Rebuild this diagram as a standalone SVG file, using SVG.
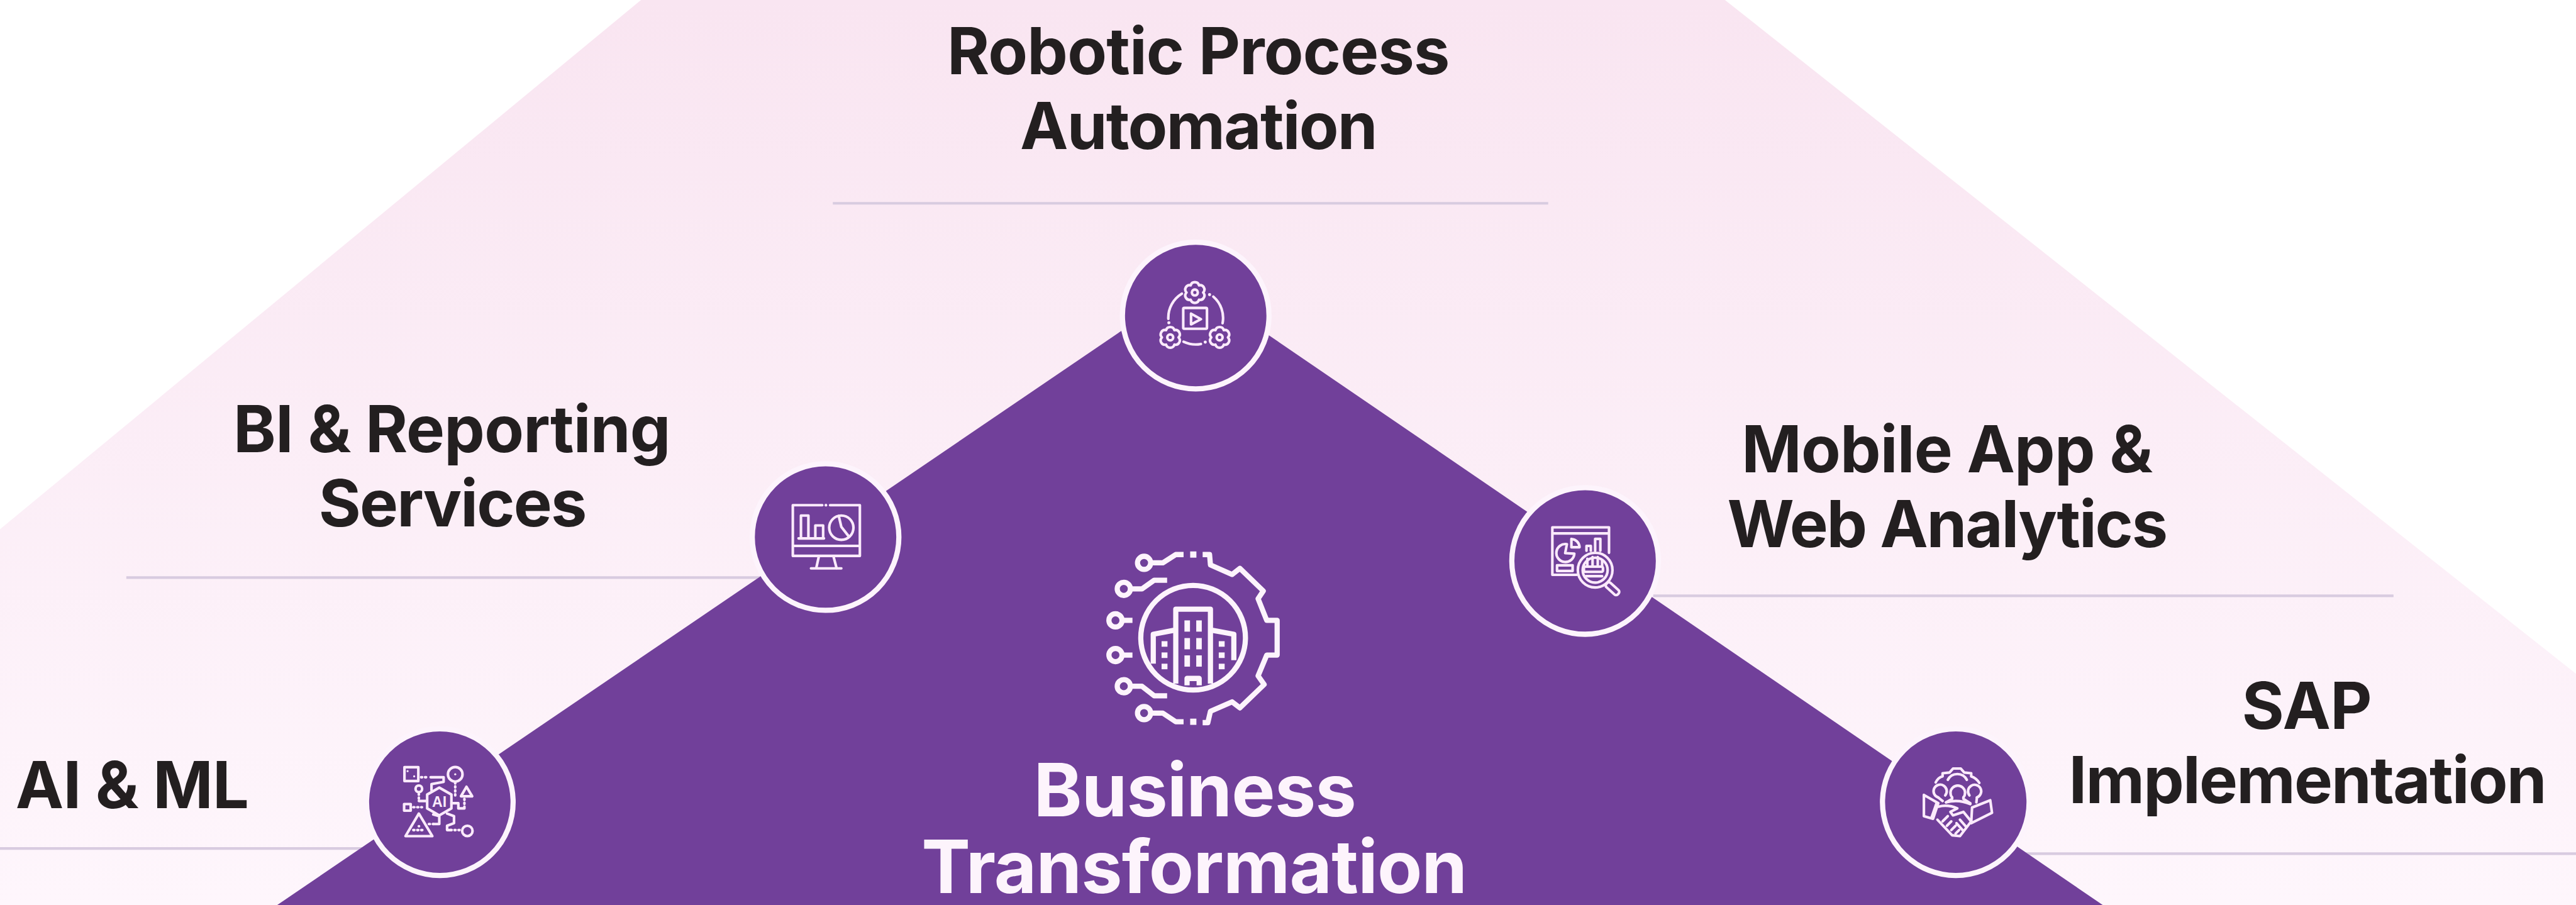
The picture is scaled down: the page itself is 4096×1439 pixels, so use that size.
<svg xmlns="http://www.w3.org/2000/svg" xmlns:xlink="http://www.w3.org/1999/xlink" width="4096" height="1439" viewBox="0 0 4096 1439">
<defs>
<linearGradient id="bg" gradientUnits="userSpaceOnUse" x1="0" y1="0" x2="0" y2="1741"><stop offset="0" stop-color="#f9e5f1"/><stop offset="1" stop-color="#fef6fc"/></linearGradient>
<g id="gear"><path d="M48 0A25 25 0 0 1 24 41.700A25 25 0 0 1 -24 41.700A25 25 0 0 1 -48 0A25 25 0 0 1 -24 -41.700A25 25 0 0 1 24 -41.700A25 25 0 0 1 48 0Z"/><circle r="17"/></g>
</defs>
<style>
.t{font-family:Inter,"Liberation Sans",sans-serif;font-weight:650;font-size:124px;letter-spacing:-1px;fill:#231f20;text-anchor:middle}
.n{letter-spacing:-2.2px}
.w{font-family:Inter,"Liberation Sans",sans-serif;font-weight:700;font-size:141px;letter-spacing:-1px;fill:#fdf4fc;text-anchor:middle}
.a{font-family:"Liberation Sans",sans-serif;font-weight:700;font-size:28px;fill:#fbeafb;text-anchor:middle}
.r{stroke:#d8cbe0;stroke-width:5;fill:none}
.c{fill:#71409a;stroke:#fdf4fc;stroke-width:10}
.i{fill:none;stroke:#fbeafb;stroke-width:15;stroke-linejoin:round;stroke-linecap:round}
.d{stroke-dasharray:6 17}
.h{fill:none;stroke:#fdf4fc;stroke-width:30;stroke-linejoin:round}
.hf{fill:#fdf4fc}
</style>
<rect width="4096" height="1439" fill="#fff"/>
<g transform="scale(0.82664)">
<polygon points="0,1018 1233,0 3318,0 4955,1296 4955,1741 0,1741" fill="url(#bg)"/>
<g id="connectors">
<line class="r" x1="1602" y1="391" x2="2978" y2="391"/>
<line class="r" x1="243" y1="1111" x2="1500" y2="1111"/>
<line class="r" x1="3180" y1="1146" x2="4604" y2="1146"/>
<line class="r" x1="0" y1="1632" x2="760" y2="1632"/>
<line class="r" x1="3880" y1="1642" x2="4955" y2="1642"/>
</g>
<polygon id="pyramid" points="2293,544 4045,1741 533,1741" fill="#71409a"/>
<g id="centre">
<g transform="translate(2080,1030) scale(.3333)">
<g class="h">
<circle cx="645" cy="590" r="302"/>
<path d="M700 110H740L745 170L870 225L915 190L1050 320L1020 365L1070 490H1130V690H1070L1020 810L1055 860L915 995L870 960L745 1015L730 1080H700"/>
<path d="M400 158H470L545 110H590M283 308H350L420 258H495M235 490H295M235 690H295M283 870H350L420 925H495M400 1025H470L545 1075H590"/>
<circle cx="362" cy="158" r="38"/><circle cx="245" cy="308" r="38"/><circle cx="197" cy="490" r="38"/><circle cx="197" cy="690" r="38"/><circle cx="245" cy="870" r="38"/><circle cx="362" cy="1025" r="38"/>
<path d="M545 855V425H745V855M545 545L415 570V740M745 545L880 570V720"/>
<path d="M610 865V825H680V865"/>
</g>
<g class="hf">
<rect x="628" y="92" width="36" height="36"/><rect x="628" y="1057" width="36" height="36"/>
<rect x="595" y="490" width="32" height="65"/><rect x="663" y="490" width="32" height="65"/><rect x="595" y="592" width="32" height="65"/><rect x="663" y="592" width="32" height="65"/><rect x="595" y="692" width="32" height="65"/><rect x="663" y="692" width="32" height="65"/>
<rect x="463" y="610" width="34" height="32"/><rect x="463" y="675" width="34" height="32"/><rect x="463" y="740" width="34" height="32"/>
<rect x="793" y="610" width="34" height="32"/><rect x="793" y="675" width="34" height="32"/><rect x="793" y="740" width="34" height="32"/>
</g>
</g>
<text class="w" x="2298" y="1570">Business</text><text class="w" x="2297" y="1718">Transformation</text>
</g>
<g id="n-rpa"><circle class="c" cx="2300" cy="607" r="141"/>
<g transform="translate(2060,420) scale(.3333)" class="i">
<use xlink:href="#gear" href="#gear" x="715" y="428"/><use xlink:href="#gear" href="#gear" x="573" y="687"/><use xlink:href="#gear" href="#gear" x="858" y="687"/>
<path d="M640 435A162 162 0 0 0 562 580M822 452A162 162 0 0 1 875 605M650 712Q700 735 750 725"/>
<rect x="648" y="517" width="137" height="120" rx="6"/>
<path d="M693 550V612L750 582Z"/>
<path d="M800 440h.1M565 603h.1M775 714h.1" stroke-width="18"/>
</g>
<text class="t" x="2305" y="143">Robotic Process</text><text class="t n" x="2305" y="287">Automation</text></g>
<g id="n-bi"><circle class="c" cx="1588" cy="1033" r="141"/>
<g transform="translate(1400,860) scale(.3333)" class="i">
<path d="M545 335H375V628H762V335H590M375 570H762M525 632L510 700M610 632L628 700M480 700H655"/>
<path d="M408 527H555M422 527V395H465V527M505 527V452H550V527"/>
<circle cx="655" cy="465" r="70"/><path d="M640 397L655 460L700 518"/>
<path d="M566 335h.1" stroke-width="16"/>
</g>
<text class="t" x="869" y="870">BI &amp; Reporting</text><text class="t n" x="870" y="1013">Services</text></g>
<g id="n-mobile"><circle class="c" cx="3049" cy="1079" r="141"/>
<g transform="translate(2860,900) scale(.3333)" class="i">
<path d="M705 490V343H378V617H520M378 378H705"/>
<path d="M462 440A52 52 0 1 0 505 495L452 492Z"/><path d="M488 410A50 50 0 0 1 535 458H488Z"/>
<path d="M575 478V450H600V478M625 478V410H655V478"/>
<rect x="405" y="562" width="90" height="33"/>
<circle cx="625" cy="590" r="100"/><circle cx="625" cy="590" r="72"/>
<path d="M580 570V525M610 570V515M640 570V515M665 570V535"/>
<rect x="560" y="570" width="110" height="30" rx="8"/><path d="M572 625H665"/>
<g transform="rotate(42 725 697)"><rect x="680" y="680" width="90" height="34" rx="14"/></g>
</g>
<text class="t" x="3745" y="909">Mobile App &amp;</text><text class="t" x="3745" y="1052" style="letter-spacing:-2.6px">Web Analytics</text></g>
<g id="n-ai"><circle class="c" cx="846" cy="1543" r="141"/>
<g transform="translate(660,1380) scale(.3333)" class="i">
<rect x="354" y="287" width="80" height="80"/><path d="M372 310h.1M410 340h.1" stroke-width="12"/>
<path d="M505 345H580V372L510 385V420"/>
<path class="d" d="M450 345H495M647 375V460M437 440V480M700 470V515M405 518H455M495 615H520M620 650H680"/>
<circle cx="647" cy="328" r="42"/><path d="M647 328h.1" stroke-width="12"/>
<circle cx="437" cy="412" r="19"/>
<path d="M555 405L625 445V525L555 565L485 525V445Z"/>
<path d="M437 482H480M625 495H665V525H700V515M520 560L555 570V615H520M600 555L640 570V610L600 625V650H625"/>
<path d="M712 400L745 455H680Z"/>
<rect x="352" y="500" width="38" height="38"/>
<path d="M437 555L515 685H360Z"/>
<path class="d" d="M405 650H470M437 628H438"/>
<circle cx="717" cy="655" r="30"/>
</g>
<text class="a" x="845" y="1552">AI</text>
<text class="t" x="254" y="1554">AI &amp; ML</text></g>
<g id="n-sap"><circle class="c" cx="3762" cy="1543" r="141"/>
<g transform="translate(3580,1380) scale(.3333)" class="i">
<path d="M430 375Q445 345 470 340V322L510 318L530 295H575L595 318L635 322V340Q665 350 682 378"/>
<path d="M500 360A62 62 0 0 1 610 360"/>
<path d="M445 462A38 38 0 1 1 485 450M525 462A42 42 0 1 1 590 462M625 450A38 38 0 1 1 668 462"/>
<path d="M445 462L470 482M525 462V470L490 490M590 462V470L630 495M668 462L665 490"/>
<path d="M490 490Q560 470 630 500"/>
<path d="M362 447L445 495L415 585L362 570Z"/>
<path d="M745 478L755 550L635 610L640 520L745 478"/>
<path d="M435 495L405 580"/>
<path d="M445 515Q500 500 555 525L515 545L530 565L590 545L635 600L570 685L525 680L440 590"/>
<path d="M470 600L500 570M495 625L520 600M520 650L545 625M545 670L565 650M570 590L605 630M550 610L585 650"/>
</g>
<text class="t" x="4437" y="1402">SAP</text><text class="t n" x="4438" y="1545">Implementation</text></g>
</g>
</svg>
